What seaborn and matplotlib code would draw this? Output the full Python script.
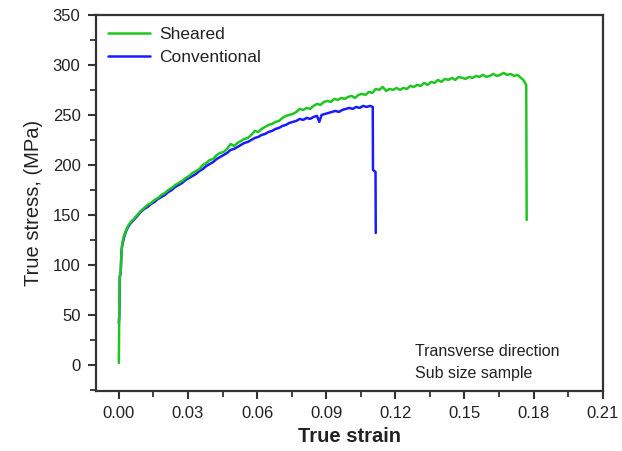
import matplotlib
matplotlib.use("Agg")
import matplotlib.pyplot as plt
import seaborn as sns
import pandas as pd
from matplotlib.ticker import MultipleLocator

sheared_strain = [
    0.0000, 0.0001, 0.0002, 0.0004, 0.0006, 0.0008, 0.0010, 0.0013, 0.0017, 0.0022,
    0.0030, 0.0040, 0.0052, 0.0065, 0.0080, 0.0095, 0.0110, 0.0125, 0.0140, 0.0155,
    0.0170, 0.0185, 0.0200, 0.0215, 0.0230, 0.0245, 0.0260, 0.0275, 0.0290, 0.0305,
    0.0320, 0.0335, 0.0350, 0.0365, 0.0380, 0.0395, 0.0410, 0.0425, 0.0440, 0.0455,
    0.0470, 0.0485, 0.0500, 0.0515, 0.0530, 0.0545, 0.0560, 0.0575, 0.0590, 0.0605,
    0.0620, 0.0635, 0.0650, 0.0665, 0.0680, 0.0695, 0.0710, 0.0725, 0.0740, 0.0755,
    0.0770, 0.0785, 0.0800, 0.0815, 0.0830, 0.0845, 0.0860, 0.0875, 0.0890, 0.0905,
    0.0920, 0.0935, 0.0950, 0.0965, 0.0980, 0.0995, 0.1010, 0.1025, 0.1040, 0.1055,
    0.1070, 0.1085, 0.1100, 0.1115, 0.1130, 0.1145, 0.1160, 0.1175, 0.1190, 0.1205,
    0.1220, 0.1235, 0.1250, 0.1265, 0.1280, 0.1295, 0.1310, 0.1325, 0.1340, 0.1355,
    0.1370, 0.1385, 0.1400, 0.1415, 0.1430, 0.1445, 0.1460, 0.1475, 0.1490, 0.1505,
    0.1520, 0.1535, 0.1550, 0.1565, 0.1580, 0.1595, 0.1610, 0.1625, 0.1640, 0.1655,
    0.1670, 0.1685, 0.1700, 0.1715, 0.1730, 0.1745, 0.1755, 0.1763, 0.1768, 0.1770,
]
sheared_stress = [
    2, 30, 60, 88, 91, 92, 105, 118, 124, 129,
    134, 139, 143, 146, 150, 154, 157, 160, 162, 165,
    167, 170, 172, 175, 177, 180, 182, 184, 187, 189,
    192, 194, 196, 200, 202, 205, 206, 210, 212, 213,
    216, 221, 219, 222, 224, 226, 227, 230, 234, 233,
    236, 238, 240, 241, 243, 244, 247, 249, 250, 251,
    253, 256, 255, 257, 256, 259, 261, 260, 263, 264,
    263, 266, 265, 267, 266, 268, 269, 267, 270, 271,
    270, 273, 272, 276, 275, 278, 274, 276, 275, 277,
    275, 277, 276, 279, 278, 280, 279, 282, 280, 283,
    282, 285, 283, 286, 285, 287, 285, 288, 287, 286,
    288, 287, 289, 288, 290, 288, 289, 291, 289, 290,
    292, 290, 291, 289, 290, 287, 285, 282, 280, 145,
]

conv_strain = [
    0.0000, 0.0002, 0.0004, 0.0008, 0.0012, 0.0016, 0.0022, 0.0030, 0.0040, 0.0052,
    0.0065, 0.0080, 0.0095, 0.0110, 0.0125, 0.0140, 0.0155, 0.0170, 0.0185, 0.0200,
    0.0215, 0.0230, 0.0245, 0.0260, 0.0275, 0.0290, 0.0305, 0.0320, 0.0335, 0.0350,
    0.0365, 0.0380, 0.0395, 0.0410, 0.0425, 0.0440, 0.0455, 0.0470, 0.0485, 0.0500,
    0.0515, 0.0530, 0.0545, 0.0560, 0.0575, 0.0590, 0.0605, 0.0620, 0.0635, 0.0650,
    0.0665, 0.0680, 0.0695, 0.0710, 0.0725, 0.0740, 0.0755, 0.0770, 0.0785, 0.0800,
    0.0815, 0.0830, 0.0845, 0.0860, 0.0870, 0.0880, 0.0895, 0.0910, 0.0925, 0.0940,
    0.0955, 0.0970, 0.0985, 0.1000, 0.1015, 0.1030, 0.1045, 0.1060, 0.1075, 0.1090,
    0.1102, 0.1103, 0.1114, 0.1115,
]
conv_stress = [
    42, 50, 88, 92, 115, 121, 127, 133, 138, 142,
    145, 149, 153, 156, 158, 161, 163, 166, 168, 170,
    173, 175, 178, 180, 182, 185, 187, 189, 191, 194,
    196, 199, 201, 203, 206, 208, 210, 212, 215, 216,
    218, 220, 222, 223, 225, 227, 228, 230, 231, 233,
    234, 236, 237, 239, 240, 242, 243, 244, 246, 245,
    247, 246, 248, 249, 243, 250, 251, 252, 253, 254,
    253, 255, 256, 257, 256, 258, 257, 259, 258, 259,
    258, 195, 193, 132,
]

series_names = ["Sheared", "Conventional"]
series_colors = {"Sheared": "#1fc61f", "Conventional": "#1a1aff"}
x_ticks = [0.00, 0.03, 0.06, 0.09, 0.12, 0.15, 0.18, 0.21]
y_ticks = [0, 50, 100, 150, 200, 250, 300, 350]
annotation_lines = ["Transverse direction", "Sub size sample"]

sns.set_style("white")
plt.rcParams["font.family"] = ["Liberation Sans", "DejaVu Sans"]

df_s = pd.DataFrame({"strain": sheared_strain, "stress": sheared_stress, "series": "Sheared"})
df_c = pd.DataFrame({"strain": conv_strain, "stress": conv_stress, "series": "Conventional"})

fig = plt.figure(figsize=(6.22, 4.51), dpi=100)
ax = fig.add_axes([0.154, 0.133, 0.815, 0.834])

sns.lineplot(data=df_c, x="strain", y="stress", sort=False, estimator=None,
             color=series_colors["Conventional"], lw=1.8, ax=ax, label="Conventional")
sns.lineplot(data=df_s, x="strain", y="stress", sort=False, estimator=None,
             color=series_colors["Sheared"], lw=1.8, ax=ax, label="Sheared")

ax.set_xlim(-0.01, 0.21)
ax.set_ylim(-26, 350)
ax.set_xticks(x_ticks)
ax.set_xticklabels([f"{t:.2f}" for t in x_ticks])
ax.set_yticks(y_ticks)
ax.xaxis.set_minor_locator(MultipleLocator(0.015))
ax.yaxis.set_minor_locator(MultipleLocator(25))

for sp in ax.spines.values():
    sp.set_color("#333333")
    sp.set_linewidth(1.6)

ax.tick_params(axis="both", which="major", direction="out", length=6, width=1.5,
               color="#333333", labelsize=12, labelcolor="#222222", pad=5)
ax.tick_params(axis="both", which="minor", direction="out", length=4, width=1.3,
               color="#333333")
ax.tick_params(top=False, right=False, which="both")
ax.tick_params(bottom=True, left=True, which="both")

ax.set_xlabel("True strain", fontsize=14.5, fontweight="bold", color="#222222", labelpad=4)
ax.set_ylabel("True stress, (MPa)", fontsize=14.5, color="#222222", labelpad=7)

handles, labels = ax.get_legend_handles_labels()
order = [labels.index(n) for n in series_names]
leg = ax.legend([handles[i] for i in order], [labels[i] for i in order],
                loc="upper left", frameon=False, fontsize=12.5,
                handlelength=2.4, handletextpad=0.55, labelspacing=0.45,
                borderaxespad=0.3, bbox_to_anchor=(0.0, 1.0))
for t in leg.get_texts():
    t.set_color("#222222")

ax.text(0.1285, 14, annotation_lines[0], fontsize=11.5, color="#222222", va="center")
ax.text(0.1285, -8, annotation_lines[1], fontsize=11.5, color="#222222", va="center")

fig.savefig("out.png", dpi=100)
